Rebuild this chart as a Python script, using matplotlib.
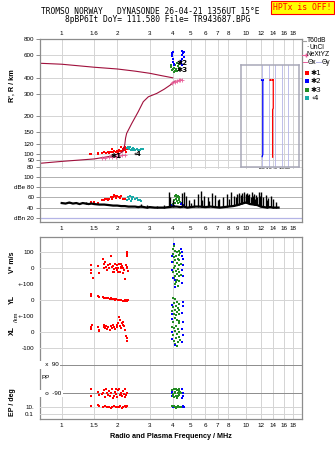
import numpy as np
import matplotlib
matplotlib.use("Agg")
import matplotlib.pyplot as plt
from matplotlib.ticker import FixedLocator, FixedFormatter, NullLocator
from matplotlib.font_manager import FontProperties

# ---------------------------------------------------------------- data
freq_ticks_top = [1, 1.5, 2, 3, 4, 5, 6, 7, 8, 10, 12, 14, 16, 18]
freq_labels_top = ["1", "1.6", "2", "3", "4", "5", "6", "7", "8", "10", "12", "14", "16", "18"]
freq_ticks_mid = [1, 1.5, 2, 3, 4, 5, 6, 7, 8, 9, 10, 12, 14, 16, 18]
freq_labels_mid = ["1", "1.5", "2", "3", "4", "5", "6", "7", "8", "9", "10", "12", "14", "16", "18"]
freq_ticks_bot = [1, 1.5, 2, 3, 4, 5, 6, 7, 8, 10, 12, 14, 16, 18]
freq_labels_bot = ["1", "1.5", "2", "3", "4", "5", "6", "7", "8", "10", "12", "14", "16", "18"]
height_ticks = [800, 600, 400, 300, 200, 150, 120, 100, 90, 80]

# model curves (MHz, km)
upper_f = [0.76, 1.0, 1.5, 2.0, 2.5, 3.0, 3.5, 4.0]
upper_h = [519, 510, 483, 468, 450, 433, 414, 399]
prof_f = [0.76, 1.0, 1.5, 1.8, 2.05, 2.15, 2.2, 2.22, 2.25, 2.4, 2.6, 2.77, 2.95, 3.28, 3.6, 3.88, 4.12]
prof_h = [85, 88, 92, 96, 101, 105, 120, 134, 146, 175, 216, 259, 283, 301, 325, 350, 377]
nexyz_lo_f = [1.65, 1.72, 1.80, 1.88, 1.96, 2.05, 2.12, 2.20]
nexyz_lo_h = [93.5, 94, 94.5, 95.5, 96, 97, 98, 98.5]
nexyz_hi_f = [3.95, 4.1, 4.2, 4.3, 4.4, 4.5]
nexyz_hi_h = [366, 372, 378, 382, 385, 386]

# echoes: frequency (MHz) / virtual height (km)
e1_f = [1.43, 1.45, 1.57, 1.58, 1.66, 1.70, 1.74, 1.78, 1.80, 1.83, 1.86, 1.88, 1.90, 1.93,
        1.96, 1.99, 2.02, 2.05, 2.08, 2.11, 2.13, 2.15, 2.17, 2.19, 2.21, 2.23, 2.24, 2.25, 2.20]
e1_h = [100, 101, 102, 100, 103, 104, 103, 104, 102, 105, 104, 111, 104, 106,
        104, 107, 105, 108, 106, 114, 107, 110, 109, 112, 108, 105, 113, 110, 115]
e2_f = [3.95, 3.97, 4.00, 4.02, 4.05, 3.96, 4.00, 4.08, 4.50, 4.55, 4.52, 4.58, 4.48, 4.45, 4.60, 4.42, 4.50]
e2_h = [620, 590, 560, 530, 510, 600, 640, 500, 650, 620, 600, 580, 560, 540, 635, 520, 500]
e3_f = [3.90, 3.95, 4.00, 4.05, 4.10, 4.15, 4.20, 4.25, 4.30, 4.35, 4.10, 4.20, 3.92, 4.30, 4.40, 4.05]
e3_h = [485, 460, 470, 480, 500, 470, 455, 490, 510, 480, 450, 520, 505, 460, 470, 445]
e4_f = [2.25, 2.30, 2.33, 2.36, 2.40, 2.43, 2.47, 2.50, 2.55, 2.60, 2.65, 2.70, 2.75, 2.38, 2.28, 2.45]
e4_h = [113, 112, 110, 114, 111, 109, 111, 108, 110, 108, 109, 110, 110, 108, 115, 113]

# tilt profiles (deg, km)
tilt2_x = [-21, -19, -19, -19, -20]
tilt2_h = [383, 383, 380, 100, 96]
tilt1_x = [-8, -4, -3, -3, -4, -4]
tilt1_h = [383, 383, 378, 230, 225, 95]

# amplitudes (MHz, dB)
noise_f = [1.0, 1.05, 1.1, 1.15, 1.2, 1.25, 1.3, 1.35, 1.4, 1.45, 1.5, 1.6, 1.7, 1.8, 1.9, 2.0,
           2.1, 2.2, 2.3, 2.4, 2.5, 2.6, 2.7, 2.8, 2.9, 3.0, 3.2, 3.4, 3.6, 3.8, 4.0, 4.2, 4.4,
           4.6, 4.8, 5.0, 5.3, 5.6, 6.0, 6.4, 6.8, 7.2, 7.6, 8.0, 8.5, 9.0, 9.5, 10, 10.5, 11,
           11.5, 12, 12.5, 13, 13.5, 14, 14.5, 15]
noise_db = [49, 48, 50, 48, 49, 47, 49, 48, 47, 48, 47, 46, 46, 45, 44, 44,
            43, 43, 42, 42, 42, 41, 42, 41, 40, 41, 40, 40, 40, 41, 42, 42, 41,
            42, 40, 41, 42, 42, 41, 42, 41, 40, 41, 42, 43, 45, 48, 50, 47, 46,
            45, 42, 41, 40, 41, 40, 40, 40]
spike_f = [1.1, 1.2, 1.35, 2.7, 2.9, 3.3, 3.6, 3.8, 3.85, 4.0, 4.5, 4.6, 4.75, 4.9, 5.0, 5.2,
           5.5, 5.7, 5.8, 5.9, 6.2, 6.3, 6.5, 6.8, 7.0, 7.1, 7.5, 7.9, 8.1, 8.3, 8.6, 8.8,
           8.9, 9.1, 9.2, 9.4, 9.5, 9.7, 9.8, 10.0, 10.1, 10.3, 10.4, 10.6, 10.7, 10.9, 11.0,
           11.2, 11.3, 11.5, 11.7, 11.9, 12.0, 12.4, 12.8, 13.0, 13.2, 13.6, 14.0, 14.5]
spike_db = [52, 51, 52, 47, 46, 44, 45, 71, 60, 55, 68, 70, 62, 55, 50, 58,
            66, 72, 56, 62, 60, 54, 68, 64, 55, 58, 60, 66, 58, 70, 62, 60,
            66, 64, 69, 65, 68, 62, 70, 66, 69, 64, 67, 60, 70, 63, 66,
            58, 64, 60, 70, 62, 71, 60, 64, 56, 59, 62, 58, 52]
a1_f = [1.44, 1.50, 1.58, 1.65, 1.70, 1.75, 1.80, 1.85, 1.90, 1.95, 2.00, 2.05, 2.10, 2.15, 2.20,
        2.25, 1.78, 1.88, 1.98, 1.72, 2.08, 1.92]
a1_db = [51, 52, 50, 55, 56, 57, 58, 60, 61, 62, 63, 60, 62, 58, 57, 55, 55, 58, 59, 58, 59, 64]
a4_f = [2.25, 2.30, 2.35, 2.40, 2.45, 2.50, 2.55, 2.60, 2.65, 2.70, 2.32, 2.42, 2.38]
a4_db = [56, 60, 62, 58, 60, 57, 59, 55, 56, 53, 57, 61, 54]
a3_f = [4.0, 4.05, 4.1, 4.15, 4.2, 4.25, 4.3, 4.35, 4.4, 4.1, 4.2, 4.3, 4.15, 4.25]
a3_db = [48, 55, 62, 64, 60, 63, 58, 61, 52, 50, 54, 56, 58, 50]
a2_f = [3.95, 4.0, 4.05, 4.45, 4.5, 4.55, 4.6]
a2_db = [45, 48, 43, 47, 50, 46, 44]

# velocity (m/s) and location (km) parameters
v1_f = [1.44, 1.44, 1.45, 1.47, 1.58, 1.59, 1.67, 1.70, 1.70, 1.72, 1.74, 1.75, 1.79, 1.81, 1.83,
        1.85, 1.87, 1.89, 1.90, 1.92, 1.95, 1.97, 1.99, 2.00, 2.03, 2.05, 2.07, 2.09, 2.11, 2.14,
        2.16, 2.18, 2.20, 2.23, 2.25, 2.25, 2.25, 2.25, 2.27, 2.28, 2.10, 2.02, 1.93, 2.13]
v1_val = [20, -10, -30, -60, 15, -30, 60, 25, 0, 40, 10, -10, 20, 0, 30,
          75, 10, -20, 15, -5, 25, 5, -10, 20, 0, 30, -20, 10, 30, 0,
          -30, -10, -65, 20, 100, 90, 80, 0, 10, -15, 5, -20, -25, 15]
yl1_f = [1.44, 1.45, 1.58, 1.59, 1.67, 1.70, 1.72, 1.75, 1.79, 1.82, 1.85, 1.88, 1.92,
         1.95, 1.98, 2.02, 2.05, 2.08, 2.11, 2.14, 2.17, 2.20, 2.22, 2.25, 2.27, 2.28]
yl1_val = [35, 25, 25, 20, 18, 15, 12, 15, 10, 8, 12, 5, 8,
           3, 5, 2, 0, -2, 3, -4, -5, -3, -8, -5, -2, 0]
xl1_f = [1.44, 1.45, 1.46, 1.58, 1.59, 1.60, 1.69, 1.70, 1.72, 1.74, 1.77, 1.79, 1.83, 1.85,
         1.87, 1.89, 1.91, 1.94, 1.99, 2.00, 2.03, 2.05, 2.07, 2.09, 2.12, 2.14, 2.16, 2.18,
         2.20, 2.23, 2.25, 2.25, 2.06]
xl1_val = [17, 29, 44, 29, 13, 4, 44, 29, 23, 35, 17, 29, 13, 40,
           23, 44, 29, 17, 44, 29, 54, 92, 40, 23, 54, 44, 65, 35,
           10, -25, -40, -54, 75]
v3_f = [4.05, 4.1, 4.2, 4.0, 4.15, 4.3, 4.05, 4.25, 4.1, 4.35, 4.0, 4.2, 4.3, 4.1, 4.05, 4.25,
        4.15, 4.35, 4.0, 4.2, 4.1, 4.3, 4.05, 4.2, 4.15, 4.1, 4.25, 4.3, 4.4, 4.0, 4.35, 4.45, 4.45]
v3_val = [140, 110, 105, 90, 80, 85, 70, 60, 50, 55, 40, 35, 20, 15, 0, -5,
          -15, -20, -25, -35, -45, -50, -60, -70, -85, -100, -110, 110, 95, 120, -80, 30, -40]
v2_f = [4.05, 4.45, 4.5, 3.98, 4.55, 3.97, 4.55, 4.5, 3.98, 4.55, 4.02, 4.48, 4.1, 4.12, 4.5]
v2_val = [155, 120, 100, 75, 60, 40, 20, -10, -10, -45, -60, -90, -115, -70, 75]
yl3_f = [4.0, 4.1, 4.2, 4.05, 4.3, 4.15, 4.0, 4.25, 4.1, 4.35, 4.2, 4.05, 4.3, 4.15, 3.95]
yl3_val = [15, 5, -10, -20, -25, -35, -45, -50, -60, -65, -75, -85, -90, -95, -70]
yl2_f = [3.97, 4.55, 4.5, 3.98, 4.55]
yl2_val = [-30, -40, -80, -90, -10]
xl3_f = [4.1, 4.2, 4.0, 4.3, 4.15, 4.05, 4.25, 4.1, 4.35, 4.2, 4.0, 4.3, 4.15, 4.05, 4.25,
         4.1, 4.2, 4.35, 4.4, 3.98]
xl3_val = [90, 75, 60, 55, 40, 25, 20, 5, 0, -10, -20, -30, -40, -55, -60,
           -75, -85, 70, -50, 30]
xl2_f = [3.97, 4.55, 4.52, 3.96, 4.55, 3.98, 4.5, 4.12]
xl2_val = [80, 60, 20, 0, -20, -45, -60, -80]

# polarization (deg) and error of polarization (deg)
pp1_f = [1.44, 1.45, 1.58, 1.60, 1.66, 1.70, 1.72, 1.75, 1.78, 1.80, 1.83, 1.86, 1.88, 1.91,
         1.94, 1.97, 2.00, 2.03, 2.06, 2.09, 2.12, 2.15, 2.18, 2.21, 2.24, 2.26, 1.74, 1.90,
         2.05, 2.20, 1.68, 1.96, 2.10]
pp1_val = [-65, -110, -80, -100, -95, -70, -115, -85, -100, -75, -110, -90, -65, -105,
           -80, -95, -115, -70, -100, -85, -110, -75, -95, -65, -100, -85, -60, -120,
           -60, -115, -85, -65, -95]
ep1_f = [1.44, 1.58, 1.60, 1.68, 1.72, 1.76, 1.80, 1.84, 1.88, 1.92, 1.96, 2.00, 2.04, 2.08,
         2.12, 2.16, 2.20, 2.24, 2.27]
ep1_val = [20, 25, 12, 8, 15, 6, 10, 5, 9, 14, 6, 11, 7, 12, 5, 9, 15, 8, 18]
pp3_f = [3.97, 4.0, 4.05, 4.1, 4.15, 4.2, 4.25, 4.3, 4.35, 4.4, 4.05, 4.15, 4.25, 4.35,
         4.1, 4.2, 4.3, 4.0, 4.45]
pp3_val = [-70, -95, -60, -80, -105, -70, -90, -65, -100, -80, -115, -60, -110, -75,
           -90, -120, -95, -110, -85]
pp2_f = [3.95, 3.96, 4.5, 4.55, 4.57, 4.52, 3.97]
pp2_val = [-75, -105, -60, -85, -110, -120, -90]
ep3_f = [3.97, 4.05, 4.12, 4.2, 4.28, 4.35, 4.42, 4.15]
ep3_val = [12, 15, 10, 9, 14, 11, 8, 5]
ep2_f = [3.95, 4.5, 4.55, 4.58, 4.0]
ep2_val = [12, 10, 14, 11, 9]

# ---------------------------------------------------------------- style
W, H = 335, 451
RED, BLUE, GREEN, TEAL = "#ff0000", "#0000ff", "#238b23", "#19aaa8"
MAROON, PINK = "#a0103c", "#e8609a"
GRID, FRAME, LAV = "#d4d4d4", "#8c8c8c", "#b4b4e6"
TICKFONT = dict(family=["Liberation Sans", "DejaVu Sans"], size=4.5)
MONO = ["DejaVu Sans Mono", "DejaVu Sans"]

fig = plt.figure(figsize=(W / 100, H / 100), dpi=100)


def px_axes(x0, y0, x1, y1, **kw):
    return fig.add_axes([x0 / W, 1 - y1 / H, (x1 - x0) / W, (y1 - y0) / H], **kw)


def fx(x):
    return x / W


def fy(y):
    return 1 - y / H


def style_frame(ax, sides):
    for s, sp in ax.spines.items():
        sp.set_visible(s in sides)
        sp.set_color(FRAME)
        sp.set_linewidth(0.9)


def freq_axis(ax, ticks, labels, where):
    ax.set_xscale("log")
    ax.set_xlim(0.758, 20.1)
    ax.xaxis.set_major_locator(FixedLocator(ticks))
    ax.xaxis.set_major_formatter(FixedFormatter(labels))
    ax.xaxis.set_minor_locator(NullLocator())
    if where == "top":
        ax.tick_params(axis="x", top=True, bottom=False, labeltop=True, labelbottom=False,
                       length=0, pad=1.8)
    elif where == "bottom":
        ax.tick_params(axis="x", length=0, pad=2.5)
    else:
        ax.tick_params(axis="x", length=0, labelbottom=False)
    for t in ax.get_xticklabels():
        t.set_fontproperties(FontProperties(**TICKFONT))


def ylabels(ax):
    for t in ax.get_yticklabels():
        t.set_fontproperties(FontProperties(**TICKFONT))
    ax.tick_params(axis="y", length=3, width=0.7, color=FRAME, pad=0.8)


def dots(ax, f, v, c, s=2.4, **kw):
    ax.scatter(f, v, s=s, marker="s", c=c, linewidths=0, clip_on=False, **kw)


# ---------------------------------------------------------------- header
fig.text(fx(150), fy(11.8), "TROMSO NORWAY   DYNASONDE 26-04-21 1356UT 15\u00b0E",
         ha="center", va="center", family=MONO, fontsize=5.7)
fig.text(fx(157.5), fy(19.8), "8pBP6It DoY= 111.580 File= TR943687.BPG",
         ha="center", va="center", family=MONO, fontsize=5.7)
fig.text(fx(302.5), fy(7.6), "HPTx is OFF!", ha="center", va="center", family=MONO,
         fontsize=5.9, color=RED,
         bbox=dict(boxstyle="square,pad=0.25", fc="#ffff00", ec=RED, lw=0.8))

# ---------------------------------------------------------------- ionogram
ax_i = px_axes(39.5, 38.5, 302, 169)
ax_i.set_yscale("log")
ax_i.set_ylim(76.7, 812)
freq_axis(ax_i, freq_ticks_top, freq_labels_top, "top")
ax_i.yaxis.set_major_locator(FixedLocator(height_ticks))
ax_i.yaxis.set_major_formatter(FixedFormatter([str(h) for h in height_ticks]))
ax_i.yaxis.set_minor_locator(NullLocator())
ylabels(ax_i)
style_frame(ax_i, ("left", "right", "top"))
ax_i.grid(True, color=GRID, lw=0.7)
ax_i.set_axisbelow(True)
ax_i.plot(upper_f, upper_h, color=MAROON, lw=0.8)
ax_i.plot(prof_f, prof_h, color=MAROON, lw=0.8)
ax_i.plot(nexyz_lo_f, nexyz_lo_h, color=PINK, lw=0.6, marker="+", ms=2.2, mew=0.6)
ax_i.plot(nexyz_hi_f, nexyz_hi_h, color=PINK, lw=0.6, marker="+", ms=2.2, mew=0.6)
dots(ax_i, e1_f, e1_h, RED)
dots(ax_i, e4_f, e4_h, TEAL)
dots(ax_i, e3_f, e3_h, GREEN)
dots(ax_i, e2_f, e2_h, BLUE)
lab = dict(fontsize=5.2, family=["DejaVu Sans"], fontweight="bold", va="center", ha="center")
ax_i.text(1.97, 96.5, "\u27311", **lab)
ax_i.text(2.57, 100, "\u20394", **lab)
ax_i.text(4.47, 520, "\u27312", **lab)
ax_i.text(4.47, 462, "\u27313", **lab)
fig.text(fx(12.5), fy(86), "R', R / km", rotation=90, ha="center", va="center",
         family=["Liberation Sans"], fontsize=5.2, fontweight="bold")

# tilt inset
ax_t = px_axes(241.3, 65, 298.7, 166.7)
ax_t.patch.set_alpha(0)
ax_t.set_yscale("log")
ax_t.set_ylim(80, 503)
ax_t.set_xlim(-52, 36)
ax_t.yaxis.set_major_locator(NullLocator())
ax_t.yaxis.set_minor_locator(NullLocator())
ax_t.xaxis.set_major_locator(FixedLocator([-20, -10, 0, 10, 20]))
ax_t.xaxis.set_major_formatter(FixedFormatter(["-20", "-10", "0", "10", "20"]))
ax_t.tick_params(axis="x", length=0, pad=1.0)
for t in ax_t.get_xticklabels():
    t.set_fontproperties(FontProperties(family="Liberation Sans", size=3.9))
ax_t.grid(True, axis="x", color=LAV, lw=0.6)
for sp in ax_t.spines.values():
    sp.set_color("#a8a8b8")
    sp.set_linewidth(1.1)
ax_t.set_xlabel("Tilt / deg", fontsize=3.9, family="Liberation Sans", labelpad=0.0)
ax_t.plot(tilt2_x, tilt2_h, color=BLUE, lw=0.9)
ax_t.plot(tilt1_x, tilt1_h, color=RED, lw=0.9)
dots(ax_t, tilt2_x[:2], tilt2_h[:2], BLUE, s=4)
dots(ax_t, tilt1_x[:2], tilt1_h[:2], RED, s=4)

# legend column
lf = dict(family=["Liberation Sans", "DejaVu Sans"], fontsize=4.8, va="center", ha="left")
fig.add_artist(plt.Line2D([fx(302), fx(306)], [fy(40.7)] * 2, color="#a0a0a0", lw=0.8))
fig.text(fx(307), fy(40.7), "T60dB", **lf)
fig.text(fx(306), fy(47.5), "\u00b7", **lf)
fig.text(fx(309), fy(47.5), "UnCl", **lf)
fig.add_artist(plt.Line2D([fx(302), fx(306)], [fy(55)] * 2, color=PINK, lw=0.7,
                          marker="+", ms=2.4, markevery=[1]))
fig.text(fx(306.5), fy(55), "NeXtYZ", **lf)
fig.add_artist(plt.Line2D([fx(303), fx(307)], [fy(62.3)] * 2, color=PINK, lw=0.7))
fig.text(fx(307.5), fy(62.3), "\u0398x", **lf)
fig.add_artist(plt.Line2D([fx(316), fx(321)], [fy(62.3)] * 2, color=LAV, lw=0.7))
fig.text(fx(321.5), fy(62.3), "\u0398y", **lf)
for yy, c, t in [(72.7, RED, "\u27311"), (80.7, BLUE, "\u27312"),
                 (89.5, GREEN, "\u27313"), (98, TEAL, "\u20394")]:
    fig.add_artist(plt.Line2D([fx(307.2)], [fy(yy)], marker="s", ms=2.4, mew=0,
                              color=c, lw=0))
    fig.text(fx(311), fy(yy), t, family=["DejaVu Sans"], fontsize=5.2, va="center", ha="left")

# ---------------------------------------------------------------- amplitude
ax_d = px_axes(39.5, 169, 302, 222.3)
ax_d.set_ylim(10.9, 116.4)
freq_axis(ax_d, freq_ticks_mid, freq_labels_mid, "bottom")
ax_d.yaxis.set_major_locator(FixedLocator([100, 80, 60, 40, 20]))
ax_d.yaxis.set_major_formatter(FixedFormatter(["100", "dBe 80", "60", "40", "dBn 20"]))
ylabels(ax_d)
style_frame(ax_d, ("left", "right", "bottom"))
for v in [100, 80, 60, 40]:
    ax_d.axhline(v, color="#b0b0b0", lw=0.7, zorder=0)
ax_d.axhline(20, color=LAV, lw=0.9, zorder=0)
base = np.interp(np.log(spike_f), np.log(noise_f), noise_db)
ax_d.vlines(spike_f, base, spike_db, color="black", lw=1.0)
ax_d.plot(noise_f, noise_db, color="black", lw=1.6)
dots(ax_d, a1_f, a1_db, RED, s=3.5)
dots(ax_d, a4_f, a4_db, TEAL, s=3.5)
dots(ax_d, a2_f, a2_db, BLUE, s=3.5)
dots(ax_d, a3_f, a3_db, GREEN, s=3.5)

# ---------------------------------------------------------------- parameters
ax_b = px_axes(39.5, 237.3, 302, 419.3)
ax_b.set_ylim(0, 1)
freq_axis(ax_b, freq_ticks_bot, freq_labels_bot, "bottom")
ax_b.yaxis.set_major_locator(NullLocator())
style_frame(ax_b, ("left", "right", "top", "bottom"))
ax_b.grid(True, axis="x", color=GRID, lw=0.7)
ax_b.set_xlabel("Radio and Plasma Frequency / MHz", family="Liberation Sans",
                fontsize=5.2, fontweight="bold", labelpad=4)


def band(y0, y1, ylim, ticks, labels, gridc=GRID, log=False):
    a = px_axes(39.5, y0, 302, y1, sharex=ax_b)
    a.patch.set_alpha(0)
    if log:
        a.set_yscale("log")
    a.set_ylim(*ylim)
    for sp in a.spines.values():
        sp.set_visible(False)
    a.tick_params(axis="x", bottom=False, labelbottom=False)
    a.yaxis.set_major_locator(FixedLocator(ticks))
    a.yaxis.set_major_formatter(FixedFormatter(labels))
    a.yaxis.set_minor_locator(NullLocator())
    ylabels(a)
    a.tick_params(axis="y", length=0, pad=4)
    for t in ticks:
        a.axhline(t, color=gridc, lw=0.7, zorder=0)
    return a


ax_v = band(237.3, 284.3, (-100, 193.75), [100, 0, -100], ["100", "0", "+-100"])
ax_yl = band(284.3, 316, (-100, 98.1), [0, -100], ["0", "+-100"])
ax_xl = band(316, 365, (-206, 100), [0, -100], ["0", "-100"])
ax_pp = band(365, 400, (-132.6, 90), [90, -90], ["", ""], gridc="#8c8c8c")
ax_ep = band(400, 419.3, (0.0025, 820), [10, 0.1], ["10.", "0.1"], log=True)

dots(ax_v, v1_f, v1_val, RED)
dots(ax_v, v3_f, v3_val, GREEN)
dots(ax_v, v2_f, v2_val, BLUE)
dots(ax_yl, yl1_f, yl1_val, RED)
dots(ax_yl, yl3_f, yl3_val, GREEN)
dots(ax_yl, yl2_f, yl2_val, BLUE)
dots(ax_xl, xl1_f, xl1_val, RED)
dots(ax_xl, xl3_f, xl3_val, GREEN)
dots(ax_xl, xl2_f, xl2_val, BLUE)
dots(ax_pp, pp1_f, pp1_val, RED)
dots(ax_pp, pp2_f, pp2_val, BLUE)
dots(ax_pp, pp3_f, pp3_val, GREEN)
dots(ax_ep, ep1_f, ep1_val, RED)
dots(ax_ep, ep2_f, ep2_val, BLUE)
dots(ax_ep, ep3_f, ep3_val, GREEN)

inner = dict(family=["Liberation Sans"], fontsize=4.5, va="center", ha="left",
             bbox=dict(boxstyle="square,pad=0.2", fc="white", ec="none"))
ax_pp.text(0.765, 90, "   x  90", **inner)
ax_pp.text(0.765, -90, "   o  -90", **inner)
ax_pp.text(0.78, 10, "PP", family=["Liberation Sans"], fontsize=4.5, va="center", ha="left")

side = dict(family=["Liberation Sans"], fontsize=5.0, fontweight="bold", rotation=90,
            ha="center", va="center")
fig.text(fx(12), fy(262), "V* m/s", **side)
fig.text(fx(12), fy(299), "YL", **side)
fig.text(fx(16), fy(317), "/km", family=["Liberation Sans"], fontsize=4.2, rotation=90,
         ha="center", va="center")
fig.text(fx(12), fy(331), "XL", **side)
fig.text(fx(12.5), fy(402), "EP / deg", **side)

fig.savefig("out.png", dpi=100)
